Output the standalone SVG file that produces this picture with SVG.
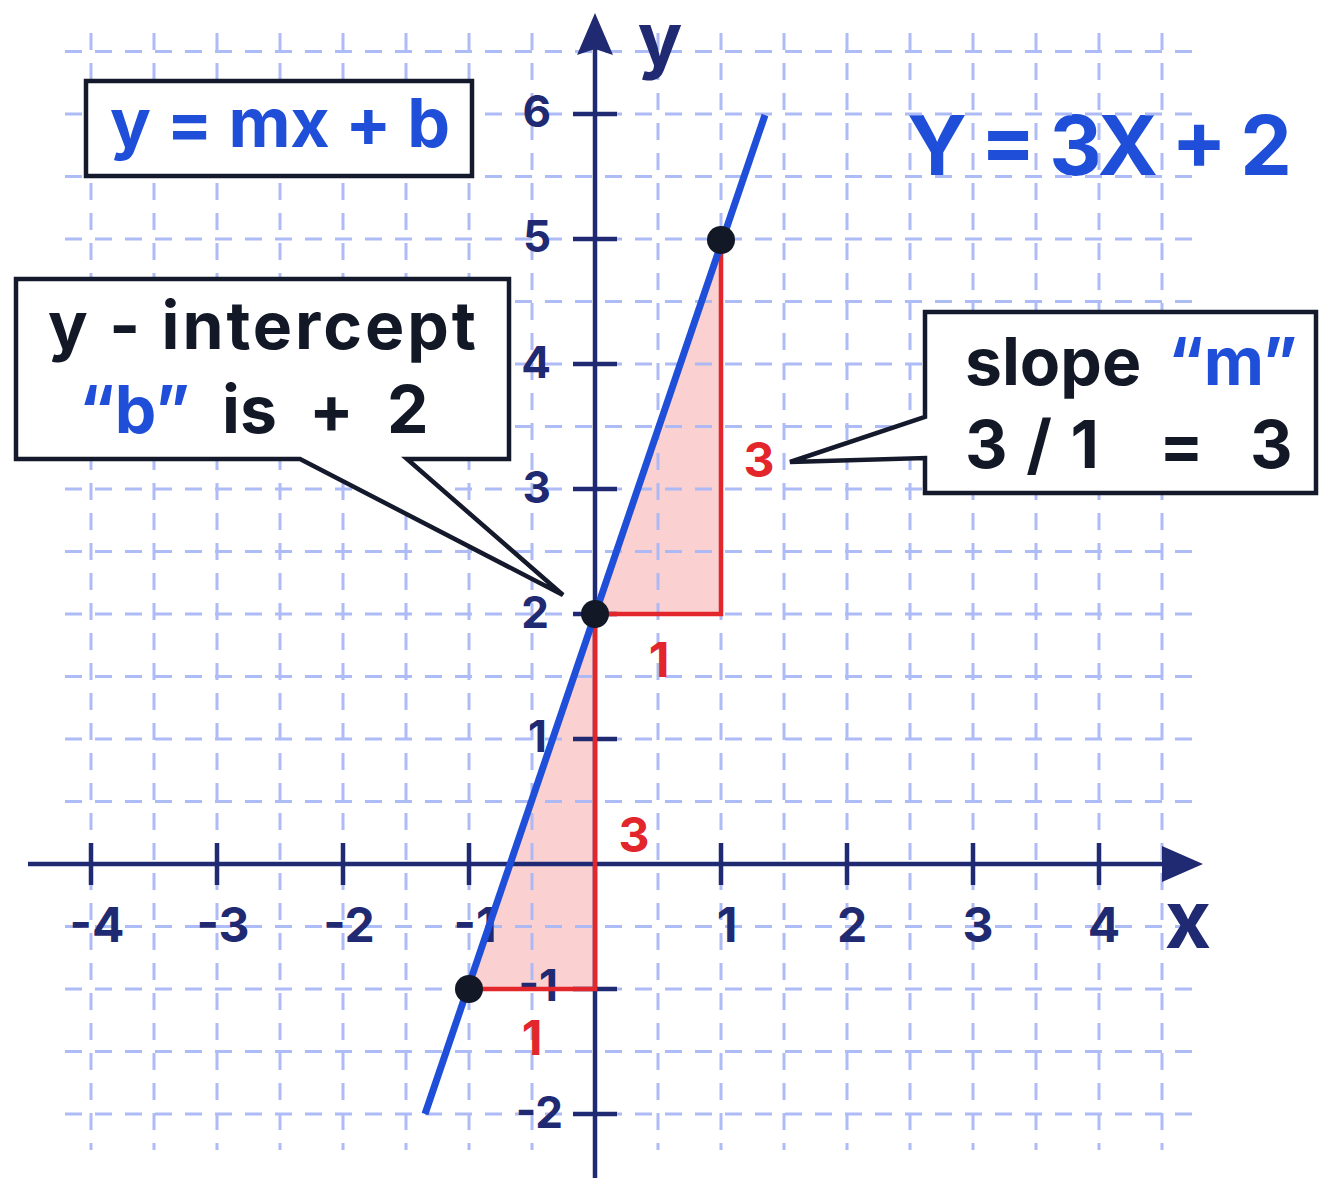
<svg xmlns="http://www.w3.org/2000/svg" width="1320" height="1182" viewBox="0 0 1320 1182">
<style>
.t{font-family:Inter,"Noto Sans","Liberation Sans",sans-serif;font-weight:700}
.grid line{stroke:#a9b8f6;stroke-width:3;stroke-dasharray:17 13}
.ax{stroke:#1f2a72;stroke-width:4.5;fill:none}
.nav{fill:#1f2a72}
.red{fill:#e2262b}
.blue{fill:#1f4fd8}
.blk{fill:#121826}
.box{fill:#fff;stroke:#141a2b;stroke-width:4.5;stroke-linejoin:miter}
.rl{stroke:#e2262b;stroke-width:4.5;fill:none}
</style>
<rect width="1320" height="1182" fill="#fff"/>
<text class="t blue" x="907" y="175" font-size="82" textLength="385" lengthAdjust="spacing">Y = 3X + 2</text>
<g id="fills">
<polygon points="595,614 721,614 721,239" fill="#fbd0d0"/>
<polygon points="469,989 595,989 595,614" fill="#fbd0d0"/>
</g>
<g class="grid" id="grid" opacity="0.95">
<line x1="91" y1="33" x2="91" y2="1150"/>
<line x1="154" y1="33" x2="154" y2="1150"/>
<line x1="217" y1="33" x2="217" y2="1150"/>
<line x1="280" y1="33" x2="280" y2="1150"/>
<line x1="343" y1="33" x2="343" y2="1150"/>
<line x1="406" y1="33" x2="406" y2="1150"/>
<line x1="469" y1="33" x2="469" y2="1150"/>
<line x1="532" y1="33" x2="532" y2="1150"/>
<line x1="658" y1="33" x2="658" y2="1150"/>
<line x1="721" y1="33" x2="721" y2="1150"/>
<line x1="784" y1="33" x2="784" y2="1150"/>
<line x1="847" y1="33" x2="847" y2="1150"/>
<line x1="910" y1="33" x2="910" y2="1150"/>
<line x1="973" y1="33" x2="973" y2="1150"/>
<line x1="1036" y1="33" x2="1036" y2="1150"/>
<line x1="1099" y1="33" x2="1099" y2="1150"/>
<line x1="1162" y1="33" x2="1162" y2="1150"/>
<line x1="65" y1="51.5" x2="1202" y2="51.5"/>
<line x1="65" y1="114" x2="1202" y2="114"/>
<line x1="65" y1="176.5" x2="1202" y2="176.5"/>
<line x1="65" y1="239" x2="1202" y2="239"/>
<line x1="65" y1="301.5" x2="1202" y2="301.5"/>
<line x1="65" y1="364" x2="1202" y2="364"/>
<line x1="65" y1="426.5" x2="1202" y2="426.5"/>
<line x1="65" y1="489" x2="1202" y2="489"/>
<line x1="65" y1="551.5" x2="1202" y2="551.5"/>
<line x1="65" y1="614" x2="1202" y2="614"/>
<line x1="65" y1="676.5" x2="1202" y2="676.5"/>
<line x1="65" y1="739" x2="1202" y2="739"/>
<line x1="65" y1="801.5" x2="1202" y2="801.5"/>
<line x1="65" y1="926.5" x2="1202" y2="926.5"/>
<line x1="65" y1="989" x2="1202" y2="989"/>
<line x1="65" y1="1051.5" x2="1202" y2="1051.5"/>
<line x1="65" y1="1114" x2="1202" y2="1114"/>
</g>
<g id="axes">
<line class="ax" x1="28" y1="864" x2="1170" y2="864"/>
<polygon class="nav" points="1162,846 1203,864 1162,882"/>
<line class="ax" x1="595" y1="1178" x2="595" y2="45"/>
<polygon class="nav" points="577,55 595,13 613,55 595,49"/>
<path class="ax" d="M91,843V885M217,843V885M343,843V885M469,843V885M721,843V885M847,843V885M973,843V885M1099,843V885"/>
<path class="ax" d="M573,114H617M573,239H617M573,364H617M573,489H617M573,614H617M573,739H617M573,989H617M573,1114H617"/>
</g>
<g id="axis-labels" class="t nav">
<g font-size="48" text-anchor="middle">
<text x="97" y="942">-4</text>
<text x="223" y="942">-3</text>
<text x="349" y="942">-2</text>
<text x="475" y="942">-1</text>
<text x="727" y="942">1</text>
<text x="852" y="942">2</text>
<text x="978" y="942">3</text>
<text x="1104" y="942">4</text>
</g>
<g font-size="44" text-anchor="end">
<text x="551" y="127">6</text>
<text x="551" y="252">5</text>
<text x="551" y="378">4</text>
<text x="551" y="503">3</text>
<text x="549" y="628">2</text>
<text x="547" y="752">1</text>
<text x="558" y="1001">-1</text>
<text x="563" y="1128">-2</text>
</g>
<text x="660" y="65" font-size="74" text-anchor="middle">y</text>
<text x="1188" y="948" font-size="80" text-anchor="middle">x</text>
</g>
<g id="triangles">
<path class="rl" d="M595,614H721V239"/>
<path class="rl" d="M469,989H595V614"/>
<g class="t red" font-size="48" text-anchor="middle">
<text x="759" y="477">3</text>
<text x="659" y="677">1</text>
<text x="634" y="852">3</text>
<text x="532" y="1055">1</text>
</g>
</g>
<g id="line">
<line x1="425" y1="1114" x2="765" y2="115" stroke="#1f4fd8" stroke-width="7"/>
<circle class="blk" cx="469" cy="989" r="14"/>
<circle class="blk" cx="595" cy="614" r="14"/>
<circle class="blk" cx="721" cy="240" r="14"/>
</g>
<g id="box-formula">
<rect class="box" x="86" y="81" width="386" height="95"/>
<text class="t blue" x="110" y="147" font-size="68" textLength="340" lengthAdjust="spacing">y = mx + b</text>
</g>
<g id="box-intercept">
<path class="box" d="M16,279H509V459H407L563,595L300,459H16Z"/>
<text class="t blk" x="48" y="349" font-size="66" textLength="428" lengthAdjust="spacing">y - intercept</text>
<text class="t" y="433" font-size="66"><tspan class="blue" x="79">“b”</tspan><tspan class="blk" x="222">is</tspan><tspan class="blk" x="309">+</tspan><tspan class="blk" x="387">2</tspan></text>
</g>
<g id="box-slope">
<path class="box" d="M925,312H1316V493H925V458L790,462L925,417Z"/>
<text class="t" y="385" font-size="66"><tspan class="blk" x="965">slope</tspan><tspan class="blue" x="1168">“m”</tspan></text>
<text class="t blk" x="965" y="468" font-size="66" textLength="134" lengthAdjust="spacing">3/1</text>
<text class="t blk" y="468" font-size="66"><tspan x="1159">=</tspan><tspan x="1250">3</tspan></text>
</g>
</svg>
